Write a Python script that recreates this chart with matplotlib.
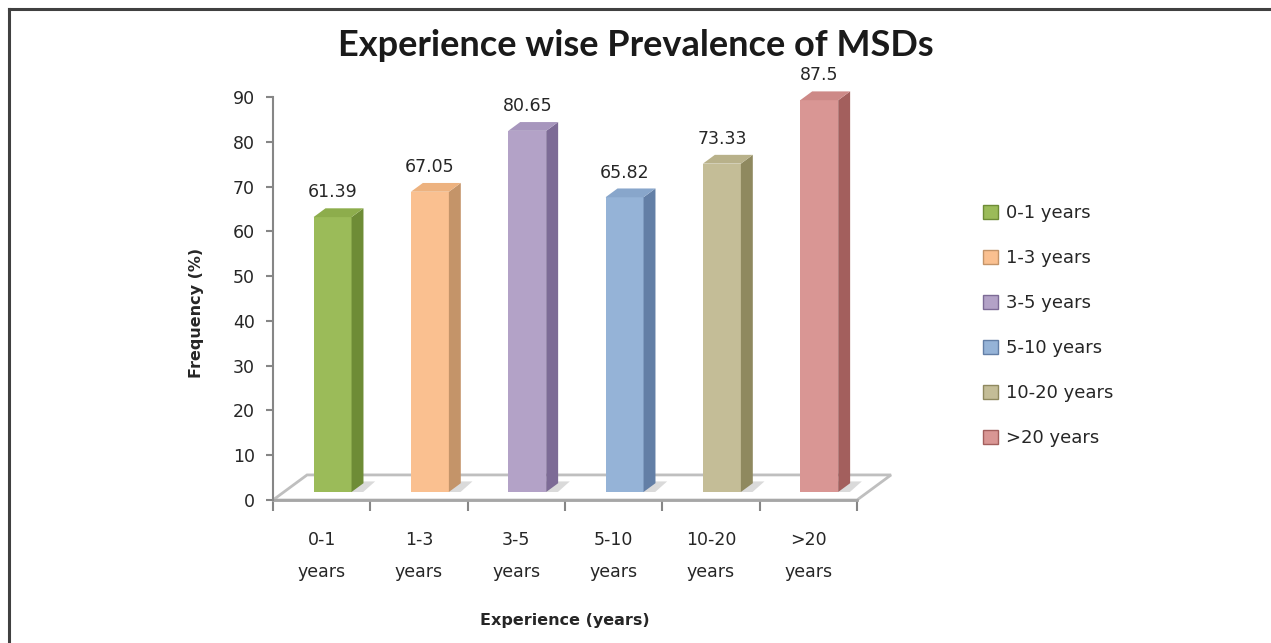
import matplotlib
matplotlib.use('Agg')
import matplotlib.pyplot as plt
from matplotlib.patches import Polygon, Rectangle, Patch
from matplotlib.lines import Line2D

# data
categories = ['0-1 years', '1-3 years', '3-5 years', '5-10 years', '10-20 years', '>20 years']
tick_labels = ['0-1\nyears', '1-3\nyears', '3-5\nyears', '5-10\nyears', '10-20\nyears', '>20\nyears']
values = [61.39, 67.05, 80.65, 65.82, 73.33, 87.5]
value_text = ['61.39', '67.05', '80.65', '65.82', '73.33', '87.5']

front_cols = ['#9BBB59', '#FAC090', '#B3A2C7', '#95B3D7', '#C4BD97', '#D99694']
side_cols  = ['#6E8C36', '#C49469', '#7D6B96', '#637FA6', '#8F895F', '#A35F5D']
top_cols   = ['#8DAD4C', '#EDB27F', '#A796BD', '#88A6CB', '#B8B18A', '#CD8987']

# fake 3D geometry (in data units)
DX, DY = 0.35, 5.6       # full floor depth offset
F0 = 0.32                # bar front position within the depth
BD = 0.35                # bar depth as fraction
BW = 0.39                # bar width

W, H = 1271, 643
fig = plt.figure(figsize=(W / 100, H / 100), dpi=100)
ax = fig.add_axes([273 / W, 1 - 500 / H, 584 / W, 403 / H])
ax.set_xlim(0, 6)
ax.set_ylim(0, 90)

grey = '#868686'
for s in ['top', 'right', 'bottom']:
    ax.spines[s].set_visible(False)
ax.spines['left'].set_color(grey)
ax.spines['left'].set_linewidth(1.5)

# floor
floor = Polygon([(0, 0), (6, 0), (6 + DX, DY), (DX, DY)], closed=True,
                facecolor='white', edgecolor='#BFBFBF', lw=2, clip_on=False, zorder=1)
ax.add_patch(floor)
ax.plot([0, 6], [0, 0], color='#A6A6A6', lw=2, clip_on=False, zorder=2)

ddx, ddy = BD * DX, BD * DY
base = F0 * DY
for i, v in enumerate(values):
    x0 = i + 0.5 - BW / 2 + F0 * DX
    # soft shadow on floor
    ax.add_patch(Polygon([(x0 + 0.03, base), (x0 + BW + 0.12, base),
                          (x0 + BW + ddx + 0.12, base + ddy + 0.4), (x0 + ddx, base + ddy + 0.4)],
                         closed=True, facecolor='#DADADA', edgecolor='none', clip_on=False, zorder=2))
    ax.add_patch(Rectangle((x0, base), BW, v, facecolor=front_cols[i], edgecolor='none',
                           clip_on=False, zorder=3))
    ax.add_patch(Polygon([(x0 + BW, base), (x0 + BW + ddx, base + ddy),
                          (x0 + BW + ddx, base + v + ddy), (x0 + BW, base + v)],
                         closed=True, facecolor=side_cols[i], edgecolor='none', clip_on=False, zorder=3))
    ax.add_patch(Polygon([(x0, base + v), (x0 + ddx, base + v + ddy),
                          (x0 + BW + ddx, base + v + ddy), (x0 + BW, base + v)],
                         closed=True, facecolor=top_cols[i], edgecolor='none', clip_on=False, zorder=3))
    ax.annotate(value_text[i], (x0 + BW / 2, base + v + ddy), xytext=(0, 5),
                textcoords='offset points', ha='center', va='bottom',
                fontsize=12.5, color='#262626', annotation_clip=False)

# axes ticks
ax.set_yticks(range(0, 91, 10))
ax.tick_params(axis='y', length=5, width=1.5, color=grey, labelsize=12.5,
               labelcolor='#262626', pad=8)
ax.set_xticks([i + 0.5 for i in range(6)])
ax.set_xticklabels(tick_labels, fontsize=12.5, color='#262626', linespacing=2.0)
ax.set_xticks(range(7), minor=True)
ax.tick_params(axis='x', which='major', length=0, pad=22)
ax.tick_params(axis='x', which='minor', length=8, width=1.5, color=grey)

fig.text(565 / W, 1 - 621 / H, 'Experience (years)', ha='center', va='center',
         fontsize=11.5, fontweight='bold', color='#262626')
fig.text(196 / W, 1 - 313 / H, 'Frequency (%)', ha='center', va='center', rotation=90,
         fontsize=11.5, fontweight='bold', color='#262626')
fig.text(636 / W, 1 - 45 / H, 'Experience wise Prevalence of MSDs', ha='center', va='center',
         fontsize=26, fontweight='bold', color='#1a1a1a', family='Lato')

handles = [Patch(facecolor=front_cols[i], edgecolor=side_cols[i]) for i in range(6)]
fig.legend(handles, categories, loc='upper left', bbox_to_anchor=(974 / W, 1 - 195 / H),
           frameon=False, fontsize=13, handlelength=0.85, handleheight=0.85,
           handletextpad=0.45, labelspacing=1.5, borderpad=0, labelcolor='#262626')

# outer frame (top and left edges visible in the reference)
fig.add_artist(Line2D([9 / W, 9 / W], [0, 1 - 9 / H], color='#404040', lw=2.2))
fig.add_artist(Line2D([9 / W, 1], [1 - 9 / H, 1 - 9 / H], color='#404040', lw=2.2))

fig.savefig('out.png', dpi=100)
